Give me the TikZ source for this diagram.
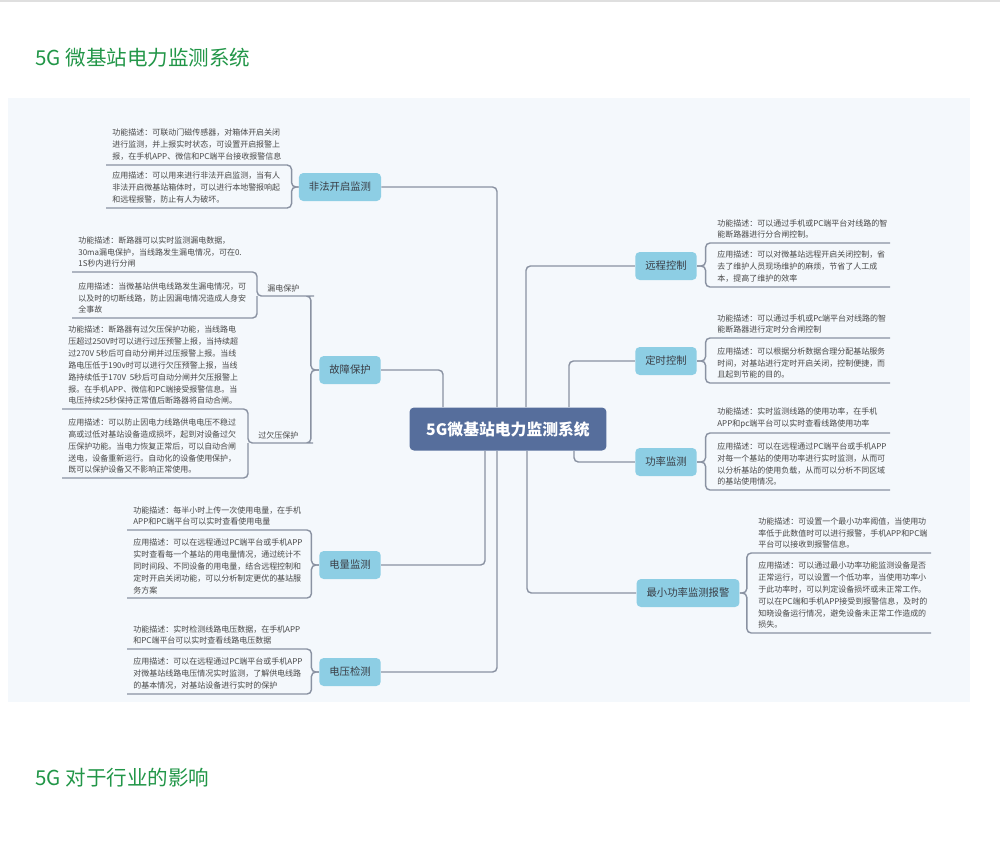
\documentclass[tikz,border=0pt]{standalone}
\usepackage{fontspec}
\setmainfont{Noto Sans CJK SC}
\usepackage{tikz}
\definecolor{titlegreen}{RGB}{34,150,72}
\definecolor{panel}{RGB}{244,248,252}
\definecolor{rootblue}{RGB}{86,110,156}
\definecolor{branchblue}{RGB}{141,206,228}
\definecolor{linegray}{RGB}{138,146,162}
\definecolor{leaftext}{RGB}{72,72,72}
\definecolor{branchtext}{RGB}{58,62,70}

\begin{document}
\begin{tikzpicture}[x=0.02cm, y=-0.02cm,
    link/.style={draw=linegray, line width=0.8pt, rounded corners=2.5pt},
    heading/.style={anchor=west, inner sep=0pt, text=titlegreen, font=\fontsize{11.7}{14}\selectfont},
    root/.style={fill=rootblue, text=white, rounded corners=2.5pt, minimum height=0.86cm, minimum width=3.94cm, font=\bfseries\fontsize{9}{11}\selectfont},
    branch/.style={fill=branchblue, text=branchtext, rounded corners=2.5pt, minimum height=0.56cm, inner xsep=0.2cm, font=\fontsize{5.9}{7}\selectfont},
    sub/.style={anchor=south west, text=leaftext, inner xsep=0.2cm, inner ysep=0.08cm, font=\fontsize{4.55}{6.8}\selectfont},
    leaf/.style={anchor=south west, align=left, text=leaftext, inner xsep=0.12cm, inner ysep=0.08cm, font=\fontsize{4.55}{6.8}\selectfont},
    leafr/.style={leaf, text width=3.33cm}]

\useasboundingbox (0,0) rectangle (1000,850);
\draw[gray!25, line width=0.6pt] (0,1) -- (1000,1);
\fill[panel] (8,98) rectangle (970,702);

\node[heading] (title) at (35,58) {5G 微基站电力监测系统};
\node[heading] (impact) at (35,778) {5G 对于行业的影响};

\node[root] (root) at (508,429) {5G微基站电力监测系统};

% left branches
\node[branch] (illegal) at (340,187) {非法开启监测};
\node[branch] (fault) at (350,370) {故障保护};
\node[branch] (energy) at (350,565) {电量监测};
\node[branch] (voltage) at (350,672) {电压检测};

% right branches
\node[branch] (remote) at (666,266) {远程控制};
\node[branch] (timer) at (666,361) {定时控制};
\node[branch] (power) at (666,462) {功率监测};
\node[branch] (minpow) at (688,593) {最小功率监测报警};

\node[sub] (leak) at (257,296) {漏电保护};
\node[sub] (overunder) at (248,443) {过欠压保护};

\node[leaf] (illegalF) at (106,165) {功能描述：可联动门磁传感器，对箱体开启关闭\\进行监测，并上报实时状态，可设置开启报警上\\报，在手机APP、微信和PC端平台接收报警信息};
\node[leaf] (illegalA) at (106,208) {应用描述：可以用来进行非法开启监测，当有人\\非法开启微基站箱体时，可以进行本地警报响起\\和远程报警，防止有人为破坏。};

\node[leaf] (leakF) at (72,272) {功能描述：断路器可以实时监测漏电数据，\\30ma漏电保护，当线路发生漏电情况，可在0.\\1S秒内进行分闸};
\node[leaf] (leakA) at (72,318) {应用描述：当微基站供电线路发生漏电情况，可\\以及时的切断线路，防止因漏电情况造成人身安\\全事故};

\node[leaf] (overunderF) at (62,409) {功能描述：断路器有过欠压保护功能，当线路电\\压超过250V时可以进行过压预警上报，当持续超\\过270V 5秒后可自动分闸并过压报警上报。当线\\路电压低于190v时可以进行欠压预警上报，当线\\路持续低于170V\ \ 5秒后可自动分闸并欠压报警上\\报。在手机APP、微信和PC端接受报警信息。当\\电压持续25秒保持正常值后断路器将自动合闸。};
\node[leaf] (overunderA) at (62,478) {应用描述：可以防止因电力线路供电电压不稳过\\高或过低对基站设备造成损坏，起到对设备过欠\\压保护功能。当电力恢复正常后，可以自动合闸\\送电，设备重新运行。自动化的设备使用保护，\\既可以保护设备又不影响正常使用。};

\node[leaf] (energyF) at (127,530) {功能描述：每半小时上传一次使用电量，在手机\\APP和PC端平台可以实时查看使用电量};
\node[leaf] (energyA) at (127,598) {应用描述：可以在远程通过PC端平台或手机APP\\实时查看每一个基站的用电量情况，通过统计不\\同时间段、不同设备的用电量，结合远程控制和\\定时开启关闭功能，可以分析制定更优的基站服\\务方案};

\node[leaf] (voltageF) at (127,649) {功能描述：实时检测线路电压数据，在手机APP\\和PC端平台可以实时查看线路电压数据};
\node[leaf] (voltageA) at (127,694) {应用描述：可以在远程通过PC端平台或手机APP\\对微基站线路电压情况实时监测，了解供电线路\\的基本情况，对基站设备进行实时的保护};

\node[leafr] (remoteF) at (711,243) {功能描述：可以通过手机或PC端平台对线路的智\\能断路器进行分合闸控制。};
\node[leafr] (remoteA) at (711,287) {应用描述：可以对微基站远程开启关闭控制，省\\去了维护人员现场维护的麻烦，节省了人工成\\本，提高了维护的效率};

\node[leafr] (timerF) at (711,338) {功能描述：可以通过手机或Pc端平台对线路的智\\能断路器进行定时分合闸控制};
\node[leafr] (timerA) at (711,383) {应用描述：可以根据分析数据合理分配基站服务\\时间，对基站进行定时开启关闭，控制便捷，而\\且起到节能的目的。};

\node[leafr] (powerF) at (711,433) {功能描述：实时监测线路的使用功率，在手机\\APP和pc端平台可以实时查看线路使用功率};
\node[leafr] (powerA) at (711,490) {应用描述：可以在远程通过PC端平台或手机APP\\对每一个基站的使用功率进行实时监测，从而可\\以分析基站的使用负载，从而可以分析不同区域\\的基站使用情况。};

\node[leafr] (minpowF) at (752,553) {功能描述：可设置一个最小功率阈值，当使用功\\率低于此数值时可以进行报警，手机APP和PC端\\平台可以接收到报警信息。};
\node[leafr] (minpowA) at (752,633) {应用描述：可以通过最小功率功能监测设备是否\\正常运行，可以设置一个低功率，当使用功率小\\于此功率时，可以判定设备损坏或未正常工作。\\可以在PC端和手机APP接受到报警信息，及时的\\知晓设备运行情况，避免设备未正常工作造成的\\损失。};

% root to branches
\draw[link] ([xshift=-0.22cm]root.north) |- (illegal.east);
\draw[link] ([xshift=-1.3cm]root.north) |- (fault.east);
\draw[link] ([xshift=-0.46cm]root.south) |- (energy.east);
\draw[link] ([xshift=-0.22cm]root.south) |- (voltage.east);
\draw[link] ([xshift=0.36cm]root.north) |- (remote.west);
\draw[link] ([xshift=1.22cm]root.north) |- (timer.west);
\draw[link] ([xshift=1.32cm]root.south) |- (power.west);
\draw[link] ([xshift=0.38cm]root.south) |- (minpow.west);

% branches to descriptions
\draw[link] (illegal.west) -- ++(-7,0) |- (illegalF.south west);
\draw[link] (illegal.west) -- ++(-7,0) |- (illegalA.south west);
\draw[link] (fault.west) -- ++(-8,0) |- (leak.south east) -- (leak.south west) |- (leakF.south west);
\draw[link] (leak.south west) |- (leakA.south west);
\draw[link] (fault.west) -- ++(-8,0) |- (overunder.south east) -- (overunder.south west) |- (overunderF.south west);
\draw[link] (overunder.south west) |- (overunderA.south west);
\draw[link] (energy.west) -- ++(-7.5,0) |- (energyF.south west);
\draw[link] (energy.west) -- ++(-7.5,0) |- (energyA.south west);
\draw[link] (voltage.west) -- ++(-7.5,0) |- (voltageF.south west);
\draw[link] (voltage.west) -- ++(-7.5,0) |- (voltageA.south west);
\draw[link] (remote.east) -- ++(8.5,0) |- (remoteF.south east);
\draw[link] (remote.east) -- ++(8.5,0) |- (remoteA.south east);
\draw[link] (timer.east) -- ++(8.5,0) |- (timerF.south east);
\draw[link] (timer.east) -- ++(8.5,0) |- (timerA.south east);
\draw[link] (power.east) -- ++(8.5,0) |- (powerF.south east);
\draw[link] (power.east) -- ++(8.5,0) |- (powerA.south east);
\draw[link] (minpow.east) -- ++(7,0) |- (minpowF.south east);
\draw[link] (minpow.east) -- ++(7,0) |- (minpowA.south east);
\end{tikzpicture}
\end{document}
